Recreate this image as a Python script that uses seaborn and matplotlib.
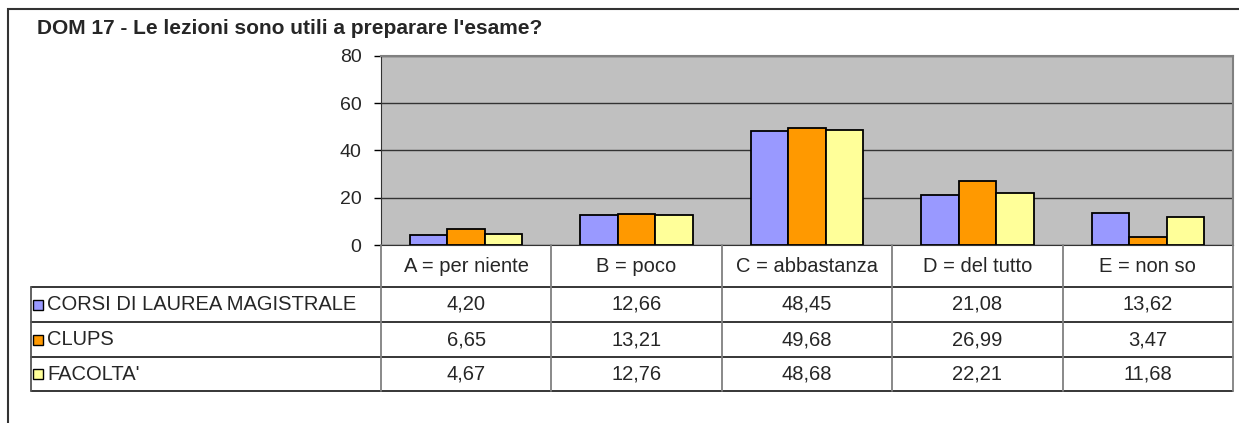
import numpy as np
import pandas as pd
import seaborn as sns
import matplotlib.pyplot as plt
from matplotlib.patches import Rectangle
from matplotlib.lines import Line2D

# data
categories = ["A = per niente", "B = poco", "C = abbastanza", "D = del tutto", "E = non so"]
series = ["CORSI DI LAUREA MAGISTRALE", "CLUPS", "FACOLTA'"]
corsi = [4.20, 12.66, 48.45, 21.08, 13.62]
clups = [6.65, 13.21, 49.68, 26.99, 3.47]
facolta = [4.67, 12.76, 48.68, 22.21, 11.68]
colors = ["#9999FF", "#FF9900", "#FFFF99"]
title = "DOM 17 - Le lezioni sono utili a preparare l'esame?"

df = pd.DataFrame({
    "categoria": categories * 3,
    "serie": [s for s in series for _ in categories],
    "valore": corsi + clups + facolta,
})

sns.set_style("white")
plt.rcParams["font.family"] = ["Liberation Sans", "DejaVu Sans"]

W, H = 1239, 423
fig = plt.figure(figsize=(W / 100, H / 100), dpi=100)

def fx(px):
    return px / W

def fy(py):
    return 1 - py / H

# plot area in pixels
L, R, T, B = 381, 1233, 56, 245
ax = fig.add_axes([fx(L), fy(B), fx(R - L), (B - T) / H])
ax.set_facecolor("#C0C0C0")

sns.barplot(data=df, x="categoria", y="valore", hue="serie", order=categories,
            hue_order=series, palette=colors, saturation=1, width=0.66,
            edgecolor="black", linewidth=1.3, ax=ax, legend=False, zorder=3)

ax.set_ylim(0, 80)
ax.set_yticks([0, 20, 40, 60, 80])
ax.set_xlim(-0.5, len(categories) - 0.5)
ax.set_xticks([])
ax.set_xlabel("")
ax.set_ylabel("")
ax.yaxis.grid(True, color="#333333", linewidth=1)
ax.set_axisbelow(True)
ax.tick_params(axis="y", length=5, width=1, color="black", labelsize=14, pad=9, left=True)
for side in ["top", "right"]:
    ax.spines[side].set_color("#808080")
    ax.spines[side].set_linewidth(1.5)
ax.spines["left"].set_color("#333333")
ax.spines["bottom"].set_color("#333333")

# outer frame (right / bottom run past the canvas)
fig.patches.append(Rectangle((fx(8), fy(440)), fx(1260), (440 - 9) / H,
                             transform=fig.transFigure, fill=False,
                             edgecolor="#333333", linewidth=1.5))

fig.text(fx(37), fy(28), title, fontsize=15, fontweight="bold", va="center", ha="left")

# data table below the plot
col_edges = np.linspace(L, R, len(categories) + 1)
row_lines = [287, 322, 357, 391]
tl, tr = 31, R

def hline(y, x0, x1, color="black"):
    fig.add_artist(Line2D([fx(x0), fx(x1)], [fy(y), fy(y)], color=color, lw=1.1,
                          transform=fig.transFigure))

def vline(x, y0, y1, color="#808080"):
    fig.add_artist(Line2D([fx(x), fx(x)], [fy(y0), fy(y1)], color=color, lw=1.3,
                          transform=fig.transFigure))

for y in row_lines:
    hline(y, tl, tr)
vline(tl, row_lines[0], row_lines[-1], color="#555555")
for x in col_edges:
    vline(x, B, row_lines[-1])

for i, cat in enumerate(categories):
    cx = (col_edges[i] + col_edges[i + 1]) / 2
    fig.text(fx(cx), fy((B + row_lines[0]) / 2), cat, fontsize=14.5, ha="center", va="center")

for r, (name, vals, col) in enumerate(zip(series, [corsi, clups, facolta], colors)):
    cy = (row_lines[r] + row_lines[r + 1]) / 2
    fig.patches.append(Rectangle((fx(33), fy(cy + 5)), fx(10), 10 / H, transform=fig.transFigure,
                                 facecolor=col, edgecolor="black", linewidth=1))
    fig.text(fx(47), fy(cy), name, fontsize=14.5, ha="left", va="center")
    for i, v in enumerate(vals):
        cx = (col_edges[i] + col_edges[i + 1]) / 2
        fig.text(fx(cx), fy(cy), f"{v:.2f}".replace(".", ","), fontsize=14.5,
                 ha="center", va="center")

fig.savefig("out.png", dpi=100)
